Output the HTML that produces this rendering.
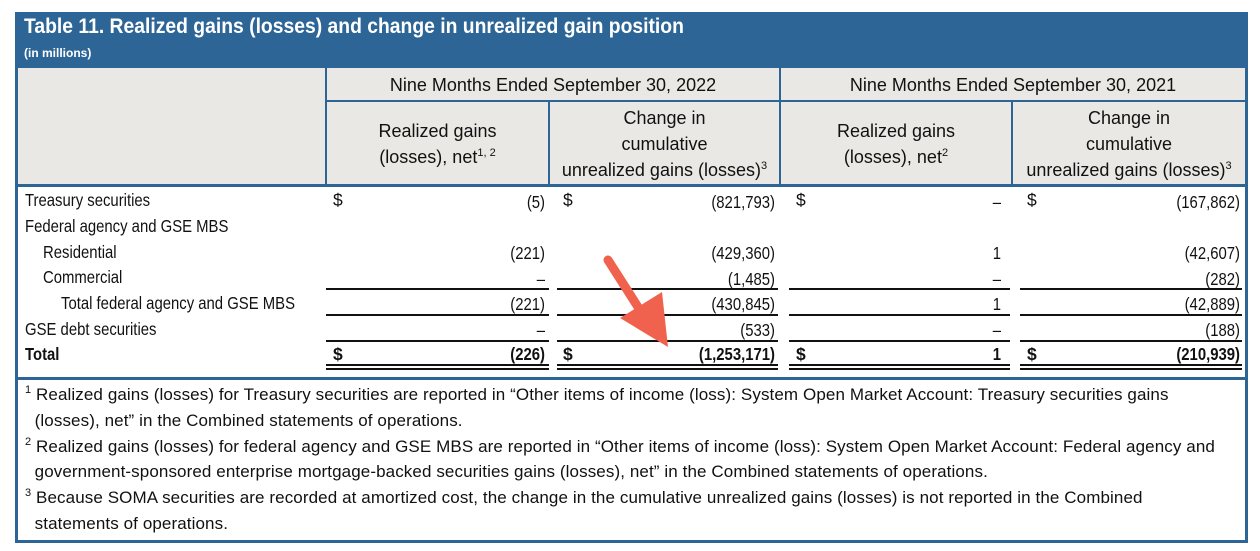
<!DOCTYPE html>
<html><head><meta charset="utf-8"><style>
body{margin:0;width:1260px;height:551px;background:#fff;position:relative;overflow:hidden;font-family:"Liberation Sans Narrow","Liberation Sans",sans-serif;color:#111}
.a{position:absolute;white-space:nowrap}
.r{text-align:right}
.c{text-align:center}
.n{transform:scaleX(.85);transform-origin:left top}
.nr{transform:scaleX(.85);transform-origin:right top}
.ln{position:absolute;background:#111;height:2px}
sup{font-size:11px;vertical-align:7px;line-height:0}
</style></head><body>
<div class="a" style="left:15px;top:12px;width:1227px;height:525px;border:3px solid #2c6596"></div>
<div class="a" style="left:18px;top:15px;width:1227px;height:53px;background:#2c6596"></div>
<div class="a" style="left:24px;top:15px;color:#fff;font-size:21px;font-weight:bold;transform:scaleX(.92);transform-origin:left top">Table 11. Realized gains (losses) and change in unrealized gain position</div>
<div class="a" style="left:24px;top:46px;color:#fff;font-size:12px;font-weight:bold">(in millions)</div>
<div class="a" style="left:18px;top:68px;width:1227px;height:116px;background:#e9e8e5"></div>
<div class="a" style="left:18px;top:184px;width:1227px;height:3px;background:#2c6596"></div>
<div class="a" style="left:326px;top:100px;width:919px;height:2px;background:#2c6596"></div>
<div class="a" style="left:325px;top:68px;width:2px;height:117px;background:#2c6596"></div>
<div class="a" style="left:779px;top:68px;width:2px;height:117px;background:#2c6596"></div>
<div class="a" style="left:548px;top:100px;width:2px;height:85px;background:#2c6596"></div>
<div class="a" style="left:1011px;top:100px;width:2px;height:85px;background:#2c6596"></div>
<div class="a c" style="left:327px;top:75px;width:452px;font-size:18px">Nine Months Ended September 30, 2022</div>
<div class="a c" style="left:781px;top:75px;width:464px;font-size:18px">Nine Months Ended September 30, 2021</div>
<div class="a c" style="left:327px;top:118px;width:221px;font-size:18px;line-height:26px">Realized gains<br>(losses), net<sup>1, 2</sup></div>
<div class="a c" style="left:550px;top:105px;width:229px;font-size:18px;line-height:26px">Change in<br>cumulative<br>unrealized gains (losses)<sup>3</sup></div>
<div class="a c" style="left:781px;top:118px;width:230px;font-size:18px;line-height:26px">Realized gains<br>(losses), net<sup>2</sup></div>
<div class="a c" style="left:1013px;top:105px;width:232px;font-size:18px;line-height:26px">Change in<br>cumulative<br>unrealized gains (losses)<sup>3</sup></div>
<div style="position:absolute;left:0;top:0;font-size:17.5px">
<div class="a n" style="left:25px;top:190px">Treasury securities</div>
<div class="a n" style="left:25px;top:216px">Federal agency and GSE MBS</div>
<div class="a n" style="left:43px;top:242px">Residential</div>
<div class="a n" style="left:43px;top:267px">Commercial</div>
<div class="a n" style="left:61px;top:293px">Total federal agency and GSE MBS</div>
<div class="a n" style="left:25px;top:319px">GSE debt securities</div>
<div class="a n" style="left:25px;top:344px;font-weight:bold">Total</div>
<div class="a" style="left:333px;top:190px">$</div><div class="a" style="left:563px;top:190px">$</div><div class="a" style="left:796px;top:190px">$</div><div class="a" style="left:1027px;top:190px">$</div>
<div class="a r nr" style="left:340px;width:205px;top:190px;line-height:25.6px">(5)<br><br>(221)<br>–<br>(221)<br>–</div>
<div class="a r nr" style="left:560px;width:215px;top:190px;line-height:25.6px">(821,793)<br><br>(429,360)<br>(1,485)<br>(430,845)<br>(533)</div>
<div class="a r nr" style="left:790px;width:211px;top:190px;line-height:25.6px">–<br><br>1<br>–<br>1<br>–</div>
<div class="a r nr" style="left:1020px;width:220px;top:190px;line-height:25.6px">(167,862)<br><br>(42,607)<br>(282)<br>(42,889)<br>(188)</div>
<div class="a" style="left:333px;top:344px;font-weight:bold">$</div><div class="a" style="left:563px;top:344px;font-weight:bold">$</div><div class="a" style="left:796px;top:344px;font-weight:bold">$</div><div class="a" style="left:1027px;top:344px;font-weight:bold">$</div>
<div class="a r nr" style="left:340px;width:205px;top:344px;font-weight:bold">(226)</div>
<div class="a r nr" style="left:560px;width:215px;top:344px;font-weight:bold">(1,253,171)</div>
<div class="a r nr" style="left:790px;width:211px;top:344px;font-weight:bold">1</div>
<div class="a r nr" style="left:1020px;width:220px;top:344px;font-weight:bold">(210,939)</div>
</div>
<div class="ln" style="left:326px;width:223px;top:288px"></div><div class="ln" style="left:557px;width:221px;top:288px"></div><div class="ln" style="left:789px;width:221px;top:288px"></div><div class="ln" style="left:1020px;width:222px;top:288px"></div>
<div class="ln" style="left:326px;width:223px;top:314px"></div><div class="ln" style="left:557px;width:221px;top:314px"></div><div class="ln" style="left:789px;width:221px;top:314px"></div><div class="ln" style="left:1020px;width:222px;top:314px"></div>
<div class="ln" style="left:326px;width:223px;top:340px"></div><div class="ln" style="left:557px;width:221px;top:340px"></div><div class="ln" style="left:789px;width:221px;top:340px"></div><div class="ln" style="left:1020px;width:222px;top:340px"></div>
<div class="ln" style="left:326px;width:223px;top:364px"></div><div class="ln" style="left:557px;width:221px;top:364px"></div><div class="ln" style="left:789px;width:221px;top:364px"></div><div class="ln" style="left:1020px;width:222px;top:364px"></div>
<div class="ln" style="left:326px;width:223px;top:368px"></div><div class="ln" style="left:557px;width:221px;top:368px"></div><div class="ln" style="left:789px;width:221px;top:368px"></div><div class="ln" style="left:1020px;width:222px;top:368px"></div>
<div class="a" style="left:18px;top:377px;width:1227px;height:3px;background:#2c6596"></div>
<div class="a" style="left:25px;top:382px;font-size:17px;line-height:25.8px;letter-spacing:0.1px">
<sup>1</sup> Realized gains (losses) for Treasury securities are reported in “Other items of income (loss): System Open Market Account: Treasury securities gains<br>
&nbsp;&nbsp;(losses), net” in the Combined statements of operations.<br>
<sup>2</sup> Realized gains (losses) for federal agency and GSE MBS are reported in “Other items of income (loss): System Open Market Account: Federal agency and<br>
&nbsp;&nbsp;government-sponsored enterprise mortgage-backed securities gains (losses), net” in the Combined statements of operations.<br>
<sup>3</sup> Because SOMA securities are recorded at amortized cost, the change in the cumulative unrealized gains (losses) is not reported in the Combined<br>
&nbsp;&nbsp;statements of operations.</div>
<svg class="a" style="left:0;top:0" width="1260" height="551">
<line x1="608" y1="260" x2="645" y2="318" stroke="#f0614e" stroke-width="9" stroke-linecap="round"/>
<polygon points="620,318 668,347 662,292" fill="#f0614e"/>
</svg>
</body></html>
